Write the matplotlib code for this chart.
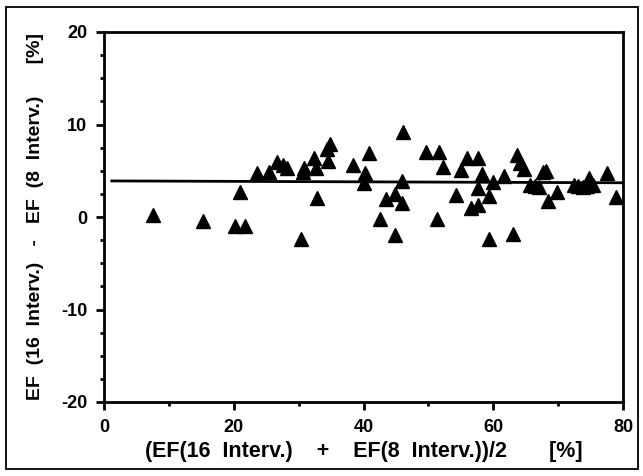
import numpy as np
import matplotlib.pyplot as plt
from matplotlib.patches import Rectangle
from matplotlib.ticker import MultipleLocator

# --- Data ---
mean_ef = [7.6, 15.3, 20.2, 21.8, 21.0, 23.6, 25.5, 26.7, 27.6, 28.2,
           30.4, 30.6, 30.9, 32.4, 32.7, 32.9, 34.4, 34.9, 34.6, 38.4,
           40.9, 40.3, 40.0, 46.0, 46.1, 43.4, 44.9, 46.0, 42.6, 44.9,
           49.7, 51.7, 52.2, 51.4, 55.9, 57.7, 55.1, 58.2, 54.3, 57.7,
           60.0, 59.4, 56.6, 57.7, 59.4, 61.7, 63.1, 63.6, 64.2, 64.7,
           67.7, 68.2, 65.7, 67.0, 66.4, 69.8, 68.4, 72.4, 73.8, 74.7,
           75.3, 73.1, 74.5, 77.5, 78.9]
diff_ef = [0.2, -0.4, -1.0, -1.0, 2.7, 4.8, 4.9, 5.9, 5.6, 5.3,
           -2.4, 4.9, 5.3, 6.4, 5.3, 2.1, 7.4, 7.9, 6.1, 5.6,
           6.9, 4.8, 3.7, 3.9, 9.2, 1.9, 2.5, 1.5, -0.2, -1.9,
           7.0, 7.0, 5.4, -0.2, 6.4, 6.4, 5.1, 4.6, 2.4, 3.1,
           3.8, 2.3, 1.0, 1.3, -2.4, 4.4, -1.8, 6.7, 5.8, 5.2,
           4.9, 5.0, 3.5, 3.2, 3.4, 2.7, 1.7, 3.5, 3.2, 4.2,
           3.5, 3.3, 3.4, 4.8, 2.2]
mean_line_x = [1.2, 80]
mean_line_y = [3.9, 3.7]

XLABEL = '(EF(16  Interv.)    +    EF(8  Interv.))/2       [%]'
YLABEL = 'EF  (16  Interv.)   -   EF  (8  Interv.)      [%]'

plt.rcParams['font.family'] = ['Liberation Sans', 'DejaVu Sans']
plt.rcParams['font.weight'] = 'bold'
plt.rcParams['axes.unicode_minus'] = False

fig = plt.figure(figsize=(6.43, 4.76), dpi=100)
ax = fig.add_axes([104 / 643, 1 - 402 / 476, 519 / 643, 370 / 476])

# outer frame round the whole figure
fig.patches.append(Rectangle((6 / 643, 7 / 476), 632 / 643, 462 / 476,
                             transform=fig.transFigure, fill=False,
                             edgecolor='black', linewidth=1.3))

ax.plot(mean_ef, diff_ef, linestyle='none', marker='^', markersize=10,
        color='black', markeredgecolor='black')
ax.plot(mean_line_x, mean_line_y, color='black', linewidth=2)

ax.set_xlim(0, 80)
ax.set_ylim(-20, 20)
ax.xaxis.set_major_locator(MultipleLocator(20))
ax.xaxis.set_minor_locator(MultipleLocator(10))
ax.yaxis.set_major_locator(MultipleLocator(10))
ax.yaxis.set_minor_locator(MultipleLocator(2.5))

for s in ax.spines.values():
    s.set_linewidth(2)
ax.tick_params(which='major', direction='out', length=6, width=2,
               labelsize=13, pad=6)
ax.tick_params(which='minor', direction='out', length=3, width=2)
for lab in ax.get_xticklabels() + ax.get_yticklabels():
    lab.set_fontweight('bold')

ax.set_xlabel(XLABEL, fontsize=15.5, fontweight='bold', labelpad=4)
ax.set_ylabel(YLABEL, fontsize=14, fontweight='bold', labelpad=12)

fig.savefig('out.png', dpi=100)
